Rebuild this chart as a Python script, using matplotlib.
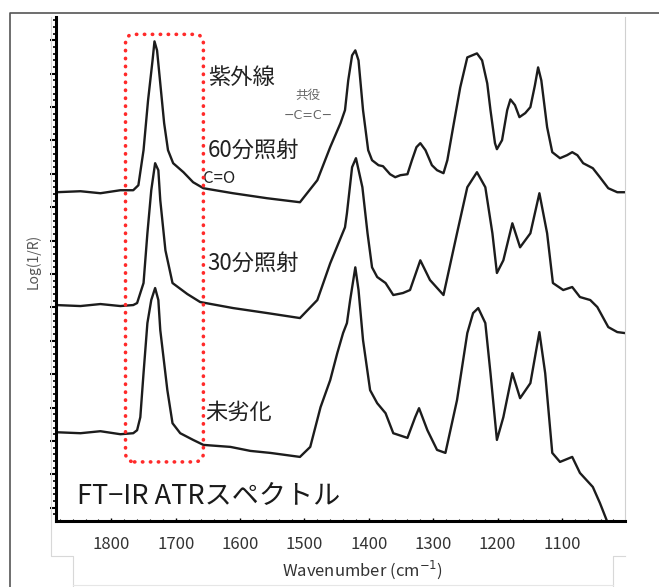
import numpy as np
import matplotlib
matplotlib.use("Agg")
import matplotlib.pyplot as plt
from matplotlib.patches import FancyBboxPatch
from matplotlib.lines import Line2D
from matplotlib.transforms import IdentityTransform

plt.rcParams['font.family'] = ['Noto Sans CJK JP', 'DejaVu Sans']

# spectra: wavenumber (cm-1) and Log(1/R) in arbitrary units
wn_uv60 = [1886, 1848, 1817, 1786, 1766, 1758, 1750, 1743, 1736, 1733, 1729, 1724, 1718, 1712,
           1704, 1688, 1673, 1657, 1611, 1558, 1507, 1480, 1460, 1444, 1437, 1432, 1426, 1421,
           1416, 1409, 1401, 1395, 1385, 1378, 1367, 1359, 1351, 1340, 1333, 1326, 1320, 1312,
           1302, 1294, 1284, 1278, 1269, 1258, 1247, 1232, 1224, 1216, 1211, 1204, 1201, 1193,
           1185, 1180, 1173, 1166, 1157, 1149, 1142, 1137, 1132, 1123, 1115, 1103, 1092, 1084,
           1076, 1067, 1052, 1041, 1028, 1014, 1002]
ab_uv60 = [9.85, 9.88, 9.82, 9.91, 9.91, 10.06, 11.11, 12.60, 13.80, 14.37, 14.10, 13.11, 11.92, 11.11,
           10.72, 10.45, 10.15, 9.97, 9.82, 9.67, 9.55, 10.21, 11.20, 11.92, 12.31, 13.20, 13.95, 14.10,
           13.80, 12.31, 11.11, 10.81, 10.66, 10.63, 10.39, 10.30, 10.36, 10.39, 10.81, 11.20, 11.32, 11.11,
           10.66, 10.51, 10.42, 10.81, 11.80, 12.99, 13.89, 14.01, 13.80, 13.11, 12.31, 11.32, 11.14, 11.41,
           12.31, 12.63, 12.46, 12.10, 12.22, 12.40, 13.05, 13.59, 13.20, 11.80, 11.05, 10.87, 10.96, 11.05,
           10.96, 10.72, 10.57, 10.30, 9.97, 9.85, 9.85]

wn_uv30 = [1886, 1848, 1817, 1786, 1766, 1760, 1755, 1750, 1744, 1738, 1732, 1727, 1724, 1716,
           1705, 1682, 1662, 1611, 1558, 1507, 1480, 1460, 1437, 1434, 1426, 1420, 1410, 1402,
           1395, 1387, 1374, 1362, 1347, 1336, 1320, 1305, 1284, 1263, 1247, 1232, 1219, 1208,
           1201, 1191, 1177, 1165, 1149, 1135, 1123, 1114, 1098, 1084, 1072, 1056, 1045, 1028,
           1014, 1002]
ab_uv30 = [6.47, 6.44, 6.50, 6.44, 6.47, 6.53, 6.83, 7.13, 8.62, 9.91, 10.72, 10.51, 9.61, 8.11,
           7.13, 6.80, 6.56, 6.38, 6.23, 6.08, 6.62, 7.72, 8.80, 9.22, 10.60, 10.87, 10.00, 8.62,
           7.60, 7.31, 7.13, 6.77, 6.83, 6.92, 7.81, 7.22, 6.77, 8.62, 10.00, 10.45, 10.00, 8.62,
           7.43, 7.81, 8.92, 8.20, 8.62, 9.82, 8.62, 7.13, 6.92, 7.01, 6.71, 6.62, 6.41, 5.81,
           5.66, 5.63]

wn_fresh = [1886, 1848, 1817, 1786, 1766, 1760, 1755, 1750, 1744, 1738, 1732, 1727, 1724, 1713,
            1705, 1693, 1673, 1657, 1615, 1584, 1553, 1507, 1491, 1475, 1460, 1449, 1440, 1434,
            1429, 1421, 1416, 1409, 1398, 1387, 1374, 1362, 1340, 1328, 1322, 1309, 1294, 1281,
            1263, 1247, 1238, 1230, 1219, 1211, 1201, 1191, 1177, 1165, 1149, 1135, 1126, 1115,
            1103, 1084, 1072, 1052, 1041, 1030]
ab_fresh = [2.66, 2.63, 2.69, 2.60, 2.63, 2.72, 3.11, 4.43, 5.93, 6.62, 6.98, 6.62, 5.72, 3.92,
            2.93, 2.63, 2.43, 2.28, 2.22, 2.10, 2.04, 1.92, 2.22, 3.41, 4.22, 5.03, 5.63, 5.93,
            6.62, 7.60, 6.92, 5.42, 3.92, 3.53, 3.23, 2.63, 2.49, 3.11, 3.38, 2.72, 2.13, 2.04,
            3.62, 5.63, 6.23, 6.38, 5.93, 4.43, 2.43, 3.11, 4.43, 3.68, 4.13, 5.66, 4.43, 2.04,
            1.77, 1.92, 1.44, 1.02, 0.54, 0.00]

xticks = [1800, 1700, 1600, 1500, 1400, 1300, 1200, 1100]

W, H = 659, 587
fig = plt.figure(figsize=(W / 100, H / 100), dpi=100)
ax = fig.add_axes([56 / W, 1 - 521 / H, (625 - 56) / W, (521 - 17) / H])

line_kw = dict(color='#1c1c1c', lw=1.7, solid_joinstyle='round')
ax.plot(wn_uv60, ab_uv60, **line_kw)
ax.plot(wn_uv30, ab_uv30, **line_kw)
ax.plot(wn_fresh, ab_fresh, **line_kw)

ax.set_xlim(1886, 1002)
ax.set_ylim(0, 15.1)

ax.set_xticks(xticks)
ax.set_xticklabels([str(t) for t in xticks], fontsize=12, color='#333333')
ax.set_xticks(np.arange(1020, 1890, 20), minor=True)
ax.tick_params(axis='x', which='major', direction='in', length=2.5, width=1, pad=11)
ax.tick_params(axis='x', which='minor', direction='in', length=1.5, width=0.8)
ax.set_yticks(np.arange(0.4, 15.0, 1.0))
ax.set_yticks(np.arange(0.2, 15.1, 0.2), minor=True)
ax.tick_params(axis='y', which='major', direction='out', length=4, width=1.5, labelleft=False)
ax.tick_params(axis='y', which='minor', direction='out', length=2.5, width=1.2)

ax.spines['top'].set_visible(False)
ax.spines['right'].set_color('#d0d0d0')
ax.spines['right'].set_linewidth(0.8)
ax.spines['left'].set_linewidth(2.2)
ax.spines['bottom'].set_linewidth(2.2)

# annotations
ax.text(1649, 13.29, '紫外線', fontsize=16, va='center', ha='left', color='#222222')
ax.text(1651, 11.11, '60分照射', fontsize=16, va='center', ha='left', color='#222222')
ax.text(1657, 10.27, 'C=O', fontsize=12, va='center', ha='left', color='#222222')
ax.text(1651, 7.72, '30分照射', fontsize=16, va='center', ha='left', color='#222222')
ax.text(1654, 3.26, '未劣化', fontsize=16, va='center', ha='left', color='#222222')
ax.text(1494, 12.75, '共役', fontsize=9, va='center', ha='center', color='#666666')
ax.text(1494, 12.16, '−C=C−', fontsize=9, va='center', ha='center', color='#666666',
        family=['DejaVu Sans'])
ax.text(1853, 0.72, 'FT−IR ATRスペクトル', fontsize=19.5, va='center', ha='left', color='#1a1a1a')

# red dotted rounded box around the carbonyl band
fig.canvas.draw()
(bx0, by0), (bx1, by1) = ax.transData.transform([(1778, 1.77), (1657, 14.58)])
box = FancyBboxPatch((min(bx0, bx1), min(by0, by1)), abs(bx1 - bx0), abs(by1 - by0),
                     boxstyle='round,pad=0,rounding_size=9', transform=IdentityTransform(),
                     fill=False, edgecolor='#ff2a2a', lw=2.6, linestyle=(0, (0.1, 2.1)))
box.set_capstyle('round')
fig.patches.append(box)
box.set_figure(fig)

# axis titles
fig.text(33 / W, 1 - 261 / H, 'Log(1/R)', rotation=90, fontsize=10, color='#555555',
         ha='center', va='center')
fig.text(362 / W, 1 - 570 / H, 'Wavenumber (cm$^{-1}$)', fontsize=12, color='#333333',
         ha='center', va='center')

# frames around the picture
def fig_line(xs, ys, **kw):
    fig.add_artist(Line2D([x / W for x in xs], [1 - y / H for y in ys],
                          transform=fig.transFigure, **kw))

fig_line([9.5, 9.5, 660], [590, 12.5, 12.5], color='#555555', lw=1.2)
fig_line([50.5, 50.5, 73, 73], [17, 556, 556, 590], color='#d8d8d8', lw=0.8)
fig_line([613, 613, 625], [590, 556, 556], color='#d8d8d8', lw=0.8)
fig_line([73, 613], [585, 585], color='#e6e6e6', lw=0.8)

fig.savefig('out.png', dpi=100)
